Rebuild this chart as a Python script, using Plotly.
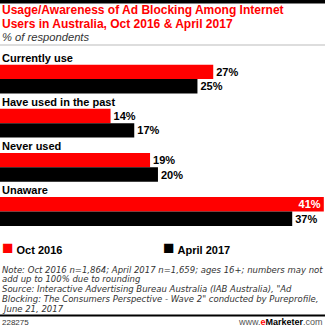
import plotly.graph_objects as go

categories = ["Currently use", "Have used in the past", "Never used", "Unaware"]
series_names = ["Oct 2016", "April 2017"]
oct_2016 = [27, 14, 19, 41]
apr_2017 = [25, 17, 20, 37]
series_colors = ["#ff0000", "#000000"]

title_lines = ["Usage/Awareness of Ad Blocking Among Internet",
               "Users in Australia, Oct 2016 & April 2017"]
subtitle = "% of respondents"
note_lines = [
    "Note: Oct 2016 n=1,864; April 2017 n=1,659; ages 16+; numbers may not",
    "add up to 100% due to rounding",
    "Source: Interactive Advertising Bureau Australia (IAB Australia), \"Ad",
    "Blocking: The Consumers Perspective - Wave 2\" conducted by Pureprofile,",
    "June 21, 2017",
]
chart_id = "228275"

W, H = 325, 328
PT, PB = 57, 241
FONT = "Liberation Sans, Arial, sans-serif"


def py(p):
    return (PB - p) / (PB - PT)


def px(p):
    return p / W


fig = go.Figure()
for name, vals, col in zip(series_names, [oct_2016, apr_2017], series_colors):
    pos = ["inside" if v == max(oct_2016 + apr_2017) else "outside" for v in vals]
    fig.add_bar(
        y=categories, x=vals, orientation="h", name=name,
        marker=dict(color=col, line=dict(width=0)),
        text=[f"<b>{v}%</b>" for v in vals], textposition=pos,
        insidetextanchor="end", constraintext="none",
        insidetextfont=dict(color="white", size=11, family=FONT),
        outsidetextfont=dict(color="black", size=11, family=FONT),
        cliponaxis=False, hoverinfo="skip",
    )

ann = []
for c in categories:
    ann.append(dict(x=0, xref="paper", y=c, yref="y", yshift=21.5, text=f"<b>{c}</b>",
                    showarrow=False, xanchor="left", yanchor="middle",
                    font=dict(size=11, color="#000", family=FONT)))
# title
for i, t in enumerate(title_lines):
    ann.append(dict(x=0, xref="paper", y=py(10.5 + 13.5 * i), yref="paper", text=f"<b>{t}</b>",
                    showarrow=False, xanchor="left", yanchor="middle",
                    font=dict(size=12, color="#ff0000", family=FONT)))
ann.append(dict(x=0, xref="paper", y=py(37), yref="paper", text=f"<i>{subtitle}</i>",
                showarrow=False, xanchor="left", yanchor="middle",
                font=dict(size=11.2, color="#333", family=FONT)))
# legend
for name, col, lx in zip(series_names, series_colors, [-0.5, 161]):
    ann.append(dict(x=px(lx), xref="paper", y=py(247.5), yref="paper",
                    text=f"<span style='color:{col};font-size:19px'>■</span> <b>{name}</b>",
                    showarrow=False, xanchor="left", yanchor="middle",
                    font=dict(size=11, color="#000", family=FONT)))
# notes
for i, t in enumerate(note_lines):
    ann.append(dict(x=0, xref="paper", y=py(269.5 + 9.9 * i), yref="paper", text=f"<i>{t}</i>",
                    showarrow=False, xanchor="left", yanchor="middle",
                    font=dict(size=8.5, color="#333", family="DejaVu Sans, sans-serif")))
ann.append(dict(x=0, xref="paper", y=py(322), yref="paper", text=chart_id,
                showarrow=False, xanchor="left", yanchor="middle",
                font=dict(size=8, color="#333", family=FONT)))
ann.append(dict(x=1, xref="paper", y=py(322), yref="paper",
                text="<span style='color:#555'>www.</span><b><span style='color:#ff0000'>e</span>Marketer</b><span style='color:#555'>.com</span>",
                showarrow=False, xanchor="right", yanchor="middle",
                font=dict(size=9, color="#000", family=FONT)))

shapes = [
    dict(type="rect", xref="paper", yref="paper", x0=0, x1=1, y0=py(0), y1=py(3.5),
         fillcolor="#000", line=dict(width=0)),
    dict(type="line", xref="paper", yref="paper", x0=0, x1=1, y0=py(45), y1=py(45),
         line=dict(color="#bbb", width=1)),
    dict(type="line", xref="paper", yref="paper", x0=0, x1=1, y0=py(315.5), y1=py(315.5),
         line=dict(color="#000", width=2)),
]

fig.update_layout(
    width=W, height=H, margin=dict(l=0, r=0, t=PT, b=H - PB, pad=0),
    paper_bgcolor="white", plot_bgcolor="white",
    barmode="group", bargap=16 / 46, bargroupgap=0,
    showlegend=False,
    xaxis=dict(range=[0, 41.15], visible=False, fixedrange=True),
    yaxis=dict(categoryorder="array", categoryarray=categories, autorange="reversed",
               visible=False, fixedrange=True),
    annotations=ann, shapes=shapes,
    font=dict(family=FONT),
)
fig.write_html("out.html", config={"displayModeBar": False})
